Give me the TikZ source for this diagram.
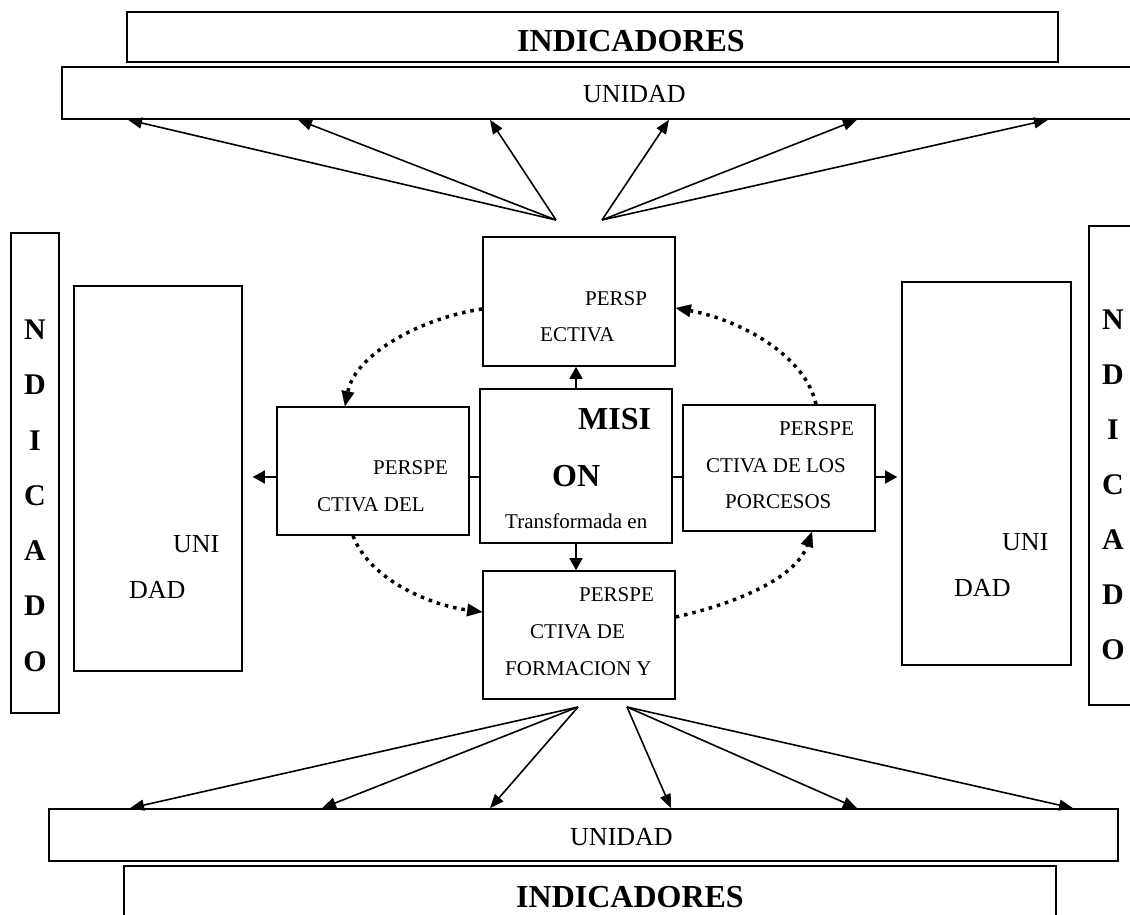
\documentclass[tikz,border=0pt]{standalone}
\usepackage{fontspec}
\setmainfont{Liberation Serif}
\usetikzlibrary{arrows.meta}
\begin{document}
\begin{tikzpicture}[x=1pt,y=-1pt,
  box/.style={draw, line width=1.6pt, inner sep=0pt},
  txt/.style={anchor=base west, inner sep=0pt, font=\fontsize{21}{25}\selectfont},
  unitxt/.style={anchor=base west, inner sep=0pt, font=\fontsize{26}{30}\selectfont},
  bigtxt/.style={anchor=base west, inner sep=0pt, font=\fontsize{32}{36}\selectfont\bfseries},
  letter/.style={inner sep=0pt, font=\fontsize{30}{34}\selectfont\bfseries},
  arr/.style={line width=1.6pt, -{Triangle[length=14pt,width=11pt]}},
  link/.style={line width=1.5pt},
  dots/.style={line width=3.5pt, dash pattern=on 3.5pt off 5pt,
    -{Triangle[length=15pt,width=13pt,line width=0.1pt]}},
]
\clip (0,0) rectangle (1130,915);

% outer bands
\node[box, minimum width=931pt, minimum height=50pt] (indTop) at (592.5,37) {};
\node[box, minimum width=1078pt, minimum height=52pt] (uniTop) at (601,93) {};
\node[box, minimum width=1069pt, minimum height=52pt] (uniBot) at (583.5,835) {};
\node[box, minimum width=932pt, minimum height=64pt] (indBot) at (590,898) {};
\node[bigtxt] (indTopT) at (517,52) {INDICADORES};
\node[unitxt] (uniTopT) at (583,103) {UNIDAD};
\node[unitxt] (uniBotT) at (570,845) {UNIDAD};
\node[bigtxt] (indBotT) at (516,907) {INDICADORES};

% side columns
\node[box, minimum width=48pt, minimum height=480pt] (leftInd) at (35,473) {};
\node[box, minimum width=168pt, minimum height=385pt] (leftUni) at (158,478.5) {};
\node[box, minimum width=169pt, minimum height=383pt] (rightUni) at (986.5,473.5) {};
\node[box, minimum width=51pt, minimum height=479pt] (rightInd) at (1114.5,465.5) {};
\foreach \c/\yl/\yr [count=\i] in {N/330/320, D/385/375, I/441/430, C/496/485, A/551/540, D/606/595, O/662/650} {
  \node[letter] (lL\i) at (35,\yl) {\c};
  \node[letter] (rL\i) at (1113,\yr) {\c};
}
\node[unitxt] (leftUniA) at (173,552) {UNI};
\node[unitxt] (leftUniB) at (129,598) {DAD};
\node[unitxt] (rightUniA) at (1002,550) {UNI};
\node[unitxt] (rightUniB) at (954,596) {DAD};

% central boxes
\node[box, minimum width=192pt, minimum height=129pt] (topP) at (579,301.5) {};
\node[box, minimum width=192pt, minimum height=154pt] (mision) at (576,466) {};
\node[box, minimum width=192pt, minimum height=128pt] (leftP) at (373,471) {};
\node[box, minimum width=192pt, minimum height=126pt] (rightP) at (779,468) {};
\node[box, minimum width=192pt, minimum height=128pt] (botP) at (579,635) {};

\node[txt] (topPA) at (585,305) {PERSP};
\node[txt] (topPB) at (540,341) {ECTIVA};
\node[bigtxt] (misA) at (578,429) {MISI};
\node[bigtxt] (misB) at (552,486) {ON};
\node[txt] (misC) at (505,528) {Transformada en};
\node[txt] (leftPA) at (373,474) {PERSPE};
\node[txt] (leftPB) at (317,511) {CTIVA DEL};
\node[txt] (rightPA) at (779,435) {PERSPE};
\node[txt] (rightPB) at (706,472) {CTIVA DE LOS};
\node[txt] (rightPC) at (725,508) {PORCESOS};
\node[txt] (botPA) at (579,601) {PERSPE};
\node[txt] (botPB) at (530,638) {CTIVA DE};
\node[txt] (botPC) at (505,675) {FORMACION Y};

% straight connectors from the mission box
\draw[arr, -{Triangle[length=12pt,width=13pt]}] (mision.north) -- (mision.north |- topP.south);
\draw[arr, -{Triangle[length=12pt,width=13pt]}] (mision.south) -- (mision.south |- botP.north);
\draw[link] (mision.west |- 0,477) -- (leftP.east |- 0,477);
\draw[link] (mision.east |- 0,477) -- (rightP.west |- 0,477);
\draw[arr, -{Triangle[length=12pt,width=13pt]}, shorten >=10pt] (leftP.west |- 0,477) -- (leftUni.east |- 0,477);
\draw[arr, -{Triangle[length=12pt,width=13pt]}, shorten >=4pt] (rightP.east |- 0,477) -- (rightUni.west |- 0,477);

% fans to the unit bands
\coordinate (tl) at (556,220);
\coordinate (tr) at (602,220);
\coordinate (bl) at (578,707);
\coordinate (br) at (627,707);
\foreach \x in {128,298,490} \draw[arr] (tl) -- (\x,0 |- uniTop.south);
\foreach \x in {669,857,1048} \draw[arr] (tr) -- (\x,0 |- uniTop.south);
\foreach \x in {130,322,490} \draw[arr] (bl) -- (\x,0 |- uniBot.north);
\foreach \x in {671,857,1073} \draw[arr] (br) -- (\x,0 |- uniBot.north);

% dotted cycle between perspectives
\draw[dots] (topP.west |- 0,309) .. controls (420,318) and (355,355) .. (345,0 |- leftP.north);
\draw[dots] (353,0 |- leftP.south) .. controls (370,580) and (430,605) .. (botP.west |- 0,612);
\draw[dots] (botP.east |- 0,617) .. controls (730,605) and (795,580) .. (812,0 |- rightP.south);
\draw[dots] (816,0 |- rightP.north) .. controls (805,355) and (740,320) .. (topP.east |- 0,308);
\end{tikzpicture}
\end{document}
